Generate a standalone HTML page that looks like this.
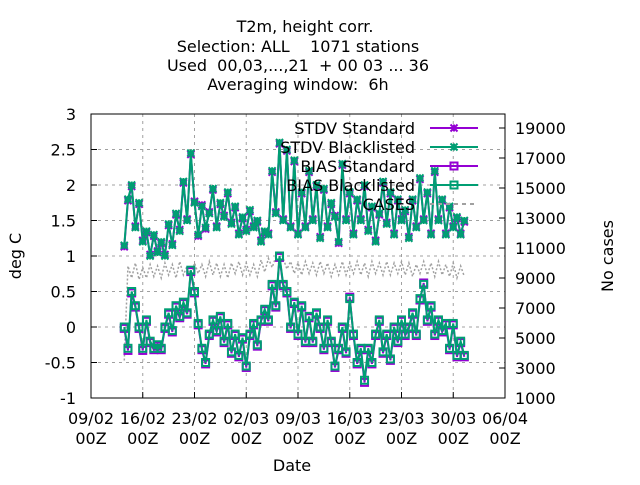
<!DOCTYPE html>
<html><head><meta charset="utf-8"><style>
body{margin:0;background:#fff}
svg text{font-family:"DejaVu Sans","Liberation Sans",sans-serif;font-size:16px;fill:#000;white-space:pre}
</style></head><body>
<svg id="chart" width="640" height="480" xmlns="http://www.w3.org/2000/svg">
<g text-anchor="middle">
<text x="305" y="32" xml:space="preserve">T2m, height corr.</text>
<text x="298" y="52" xml:space="preserve">Selection: ALL    1071 stations</text>
<text x="298" y="71" xml:space="preserve">Used  00,03,...,21  + 00 03 ... 36</text>
<text x="298" y="90" xml:space="preserve">Averaging window:  6h</text>
</g>
<text transform="translate(21,256) rotate(-90)" text-anchor="middle">deg C</text>
<text transform="translate(613,256) rotate(-90)" text-anchor="middle">No cases</text>
<text x="292" y="471" text-anchor="middle">Date</text>
<g id="grid"></g>
<g id="axes"></g>
<g id="series"></g>
<rect x="91" y="114" width="414" height="284" fill="none" stroke="#000" stroke-width="1"/>
<g id="legend"></g>
</svg>
<script>
const startOffset = 4.5;  // days after 09/02 00Z
const stepDays = 0.5;
const xTickLabels = ["09/02","16/02","23/02","02/03","09/03","16/03","23/03","30/03","06/04"];
const yTicks = [3,2.5,2,1.5,1,0.5,0,-0.5,-1];
const y2Ticks = [19000,17000,15000,13000,11000,9000,7000,5000,3000,1000];
const stdvBlacklisted = [1.15,1.8,2.0,1.4,1.75,1.2,1.35,1.0,1.3,1.05,1.2,1.0,1.45,1.15,1.6,1.35,2.05,1.5,2.45,1.75,1.3,1.7,1.4,1.6,1.95,1.4,1.75,1.55,1.9,1.45,1.7,1.3,1.55,1.35,1.65,1.4,1.5,1.2,1.35,1.3,2.2,1.6,2.6,1.5,2.5,1.4,2.35,1.3,1.9,1.4,2.2,1.5,2.0,1.25,1.95,1.4,1.75,1.55,1.2,2.3,1.5,1.9,1.3,1.8,1.5,2.0,1.35,1.7,1.2,1.6,2.05,1.45,1.9,1.3,1.8,1.5,1.65,1.25,1.8,1.4,2.1,1.5,1.9,1.3,2.2,1.5,1.8,1.3,1.7,1.4,1.55,1.3,1.5];
const stdvStandard = [1.13,1.78,1.98,1.42,1.73,1.22,1.33,1.02,1.28,1.07,1.18,1.02,1.43,1.17,1.58,1.37,2.03,1.52,2.43,1.77,1.28,1.72,1.38,1.62,1.93,1.42,1.73,1.57,1.88,1.47,1.68,1.32,1.53,1.37,1.63,1.42,1.48,1.22,1.33,1.32,2.18,1.62,2.58,1.52,2.48,1.42,2.33,1.32,1.88,1.42,2.18,1.52,1.98,1.27,1.93,1.42,1.73,1.57,1.18,2.28,1.52,1.88,1.32,1.78,1.52,1.98,1.37,1.68,1.22,1.58,2.03,1.47,1.88,1.32,1.78,1.52,1.63,1.27,1.78,1.42,2.08,1.52,1.88,1.32,2.18,1.52,1.78,1.32,1.68,1.42,1.53,1.32,1.48];
const biasBlacklisted = [0.0,-0.3,0.5,0.3,0.0,-0.3,0.1,-0.2,-0.3,-0.25,-0.3,0.0,0.2,-0.05,0.3,0.15,0.35,0.2,0.8,0.5,0.05,-0.3,-0.5,-0.1,0.1,-0.05,0.15,-0.2,0.05,-0.35,-0.1,-0.4,-0.15,-0.55,-0.1,0.05,-0.25,0.1,0.25,0.1,0.6,0.3,1.0,0.6,0.5,0.0,0.35,-0.1,0.3,-0.2,0.15,-0.2,0.2,0.0,-0.3,0.1,-0.2,-0.55,-0.3,0.0,-0.35,0.4,-0.1,-0.5,-0.3,-0.75,-0.3,-0.5,-0.1,0.1,-0.35,-0.1,-0.45,0.0,-0.2,0.1,-0.1,0.0,0.2,-0.1,0.4,0.6,0.1,0.3,-0.1,0.1,-0.05,0.05,-0.3,0.05,-0.4,-0.2,-0.4];
const biasStandard = [-0.02,-0.33,0.48,0.28,-0.02,-0.33,0.08,-0.22,-0.32,-0.27,-0.32,-0.02,0.18,-0.07,0.28,0.13,0.33,0.18,0.78,0.48,0.03,-0.32,-0.52,-0.12,0.08,-0.07,0.13,-0.22,0.03,-0.37,-0.12,-0.42,-0.17,-0.57,-0.12,0.03,-0.27,0.08,0.23,0.08,0.58,0.28,0.98,0.58,0.48,-0.02,0.33,-0.12,0.28,-0.22,0.13,-0.22,0.18,-0.02,-0.32,0.08,-0.22,-0.57,-0.32,-0.02,-0.37,0.42,-0.12,-0.52,-0.32,-0.78,-0.32,-0.52,-0.12,0.08,-0.37,-0.12,-0.47,-0.02,-0.22,0.08,-0.12,-0.02,0.18,-0.12,0.38,0.62,0.08,0.28,-0.12,0.08,-0.07,0.03,-0.32,0.03,-0.42,-0.22,-0.42];
const cases = [3500,9800,9000,10000,8900,9700,9000,9900,9100,9800,9000,10000,9200,9900,9000,10100,9200,9800,9000,10000,9300,9900,9100,10100,9200,10000,9100,9900,9000,10000,9300,10100,9200,10000,9200,9900,9100,10200,9400,10300,9700,10400,9800,10300,9600,10100,9300,10000,9200,10100,9300,10000,9200,10100,9300,10000,9100,9900,9200,10100,9200,10000,9300,10100,9200,10000,9100,10100,9300,10000,9200,10100,9200,10000,9300,10100,9200,10000,9100,9900,9300,10100,9200,10000,9100,10100,9200,9900,9100,10000,9000,9800,9100];

const NS="http://www.w3.org/2000/svg";
const L=91,R=505,T=114,B=398;
function xs(d){return L+d/56*(R-L);}
function ys(v){return B-(v+1)/4*(B-T);}
function y2s(v){return B-(v-1000)/18000*270;}
function mk(tag,attrs,parent){const e=document.createElementNS(NS,tag);for(const k in attrs)e.setAttribute(k,attrs[k]);parent.appendChild(e);return e;}
const grid=document.getElementById('grid'),axes=document.getElementById('axes'),ser=document.getElementById('series'),leg=document.getElementById('legend');

yTicks.forEach(v=>{const y=ys(v);
 if(v>-1&&v<3){const g=mk('line',{x1:L,x2:R,y1:y,y2:y,stroke:'#a0a0a0','stroke-dasharray':'3,4'},grid);}
 const t=mk('line',{x1:L,x2:L+6,y1:y,y2:y,stroke:'#000'},axes);
 const tx=mk('text',{x:76,y:y+6,'text-anchor':'end'},axes);tx.textContent=String(v);});
y2Ticks.forEach(v=>{const y=y2s(v);
 const t=mk('line',{x1:R-6,x2:R,y1:y,y2:y,stroke:'#000'},axes);
 const tx=mk('text',{x:515,y:y+6},axes);tx.textContent=String(v);});
xTickLabels.forEach((lab,i)=>{const x=xs(i*7);
 if(i>0&&i<8){const g=mk('line',{x1:x,x2:x,y1:T,y2:B,stroke:'#a0a0a0','stroke-dasharray':'3,4'},grid);}
 const t=mk('line',{x1:x,x2:x,y1:B-6,y2:B,stroke:'#000'},axes);
 const tx=mk('text',{x:x,y:424,'text-anchor':'middle'},axes);tx.textContent=lab;
 const tz=mk('text',{x:x,y:444,'text-anchor':'middle'},axes);tz.textContent='00Z';});

function star(g,x,y,c){const s=3.5;mk('path',{d:`M${x-s} ${y}H${x+s}M${x} ${y-s}V${y+s}M${x-s} ${y-s}L${x+s} ${y+s}M${x-s} ${y+s}L${x+s} ${y-s}`,stroke:c,'stroke-width':2,fill:'none'},g);}
function sq(g,x,y,c){mk('rect',{x:x-3.5,y:y-3.5,width:7,height:7,stroke:c,'stroke-width':2,fill:'none'},g);}
function drawSeries(vals,scale,color,marker,name,extra){
 const g=mk('g',{},ser);
 const pts=vals.map((v,i)=>[xs(startOffset+i*stepDays),scale(v)]);
 mk('polyline',Object.assign({points:pts.map(p=>p.join(',')).join(' '),fill:'none',stroke:color,'stroke-width':2},extra||{}),g);
 if(marker)pts.forEach(p=>marker(g,p[0],p[1],color));
}
drawSeries(cases,y2s,'#a0a0a0',null,'cases-line',{'stroke-dasharray':'2,2','stroke-width':1.5});
drawSeries(stdvStandard,ys,'#9400d3',star,'stdv-standard-line');
drawSeries(biasStandard,ys,'#9400d3',sq,'bias-standard-line');
drawSeries(stdvBlacklisted,ys,'#009e73',star,'stdv-blacklisted-line');
drawSeries(biasBlacklisted,ys,'#009e73',sq,'bias-blacklisted-line');

const legNames=["STDV Standard","STDV Blacklisted","BIAS Standard","BIAS Blacklisted","CASES"];
const legColors=['#9400d3','#009e73','#9400d3','#009e73','#a0a0a0'];
const legMarkers=[star,star,sq,sq,null];
legNames.forEach((n,i)=>{const y=128+i*19;
 const g=mk('g',{},leg);
 const t=mk('text',{x:415,y:y+6,'text-anchor':'end'},g);t.textContent=n;
 const a=i===4?{'stroke-dasharray':'4,4'}:{};
 mk('line',Object.assign({x1:430,x2:478,y1:y,y2:y,stroke:legColors[i],'stroke-width':2},a),g);
 if(legMarkers[i])legMarkers[i](g,454,y,legColors[i]);});
</script>
</body></html>
